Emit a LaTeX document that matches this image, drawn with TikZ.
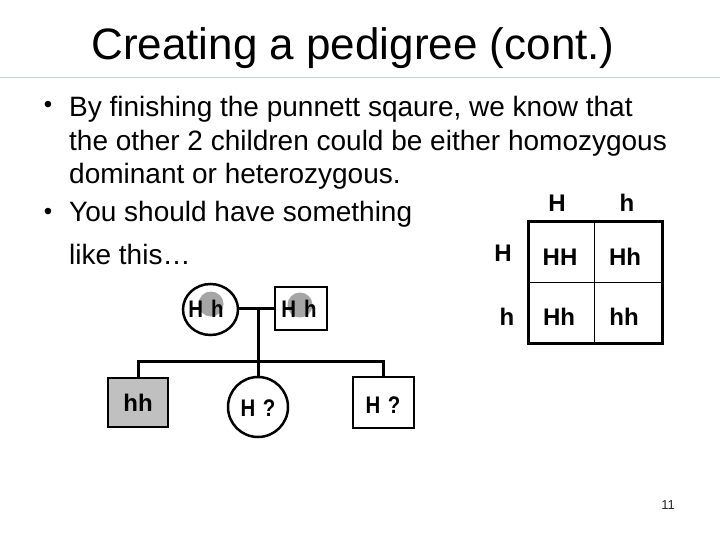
\documentclass[tikz,border=0pt]{standalone}
\usepackage{fontspec}
\setmainfont{Liberation Sans}
\usetikzlibrary{shapes.geometric}
\definecolor{ruleclr}{RGB}{200,210,220}
\definecolor{spotclr}{RGB}{165,165,165}
\definecolor{fillclr}{RGB}{192,192,192}
\newcommand{\pedtxt}[1]{\scalebox{0.85}[1]{#1}}
\begin{document}
\begin{tikzpicture}[x=1pt,y=-1pt,
  titletext/.style={font=\fontsize{44}{50}\selectfont, inner sep=0, anchor=base},
  bodytext/.style={font=\fontsize{28}{33}\selectfont, inner sep=0, anchor=base west},
  bulletmark/.style={font=\fontsize{24}{26}\selectfont, inner sep=0, anchor=base},
  gtext/.style={font=\fontsize{24}{26}\bfseries\selectfont, inner sep=0, text height=17pt, text depth=0pt, anchor=center},
  shapeline/.style={draw=black, line width=2.5pt},
  linkline/.style={draw=black, line width=3pt},
  spot/.style={fill=spotclr}
]
\useasboundingbox (0,0) rectangle (720,540);
\fill[white] (0,0) rectangle (720,540);

% title
\node[titletext] (title) at (353,60) {Creating a pedigree (cont.)};
\draw[ruleclr, line width=1.5pt] (0,77.5) -- (720,77.5);

% bullets
\node[bulletmark] (b1) at (48,113) {•};
\node[bodytext] (l1) at (69,117) {By finishing the punnett sqaure, we know that};
\node[bodytext] (l2) at (69,150.5) {the other 2 children could be either homozygous};
\node[bodytext] (l3) at (69,184) {dominant or heterozygous.};
\node[bulletmark] (b2) at (48,219) {•};
\node[bodytext] (l4) at (69,222) {You should have something};
\node[bodytext] (l5) at (69,264) {like this…};

% Punnett square
\draw[line width=3pt] (528,222) rectangle (662,343);
\draw[line width=1pt] (594,222) -- (594,343);
\draw[line width=1pt] (528,282) -- (662,282);
\node[gtext] (ch1) at (557,203) {H};
\node[gtext] (ch2) at (627,203) {h};
\node[gtext] (rh1) at (503,253) {H};
\node[gtext] (rh2) at (507,317) {h};
\node[gtext] (c11) at (560,257) {HH};
\node[gtext] (c12) at (625,257) {Hh};
\node[gtext] (c21) at (559,317) {Hh};
\node[gtext] (c22) at (624,317) {hh};

% parents
\node[ellipse, shapeline, minimum width=55pt, minimum height=51pt, inner sep=0] (mom) at (210.5,309.5) {};
\node[rectangle, shapeline, minimum width=52pt, minimum height=43pt, inner sep=0] (dad) at (301,308.5) {};
\fill[spot] (211,304) circle (12.5);
\fill[spot] (300,305) circle (12.5);
\node[gtext] (momtxt) at (206,308.5) {\pedtxt{H\hspace{3pt} h}};
\node[gtext] (dadtxt) at (299,309) {\pedtxt{H\hspace{3pt} h}};
\coordinate (drop) at (258,308.5);
\draw[linkline] (mom.east |- drop) -- (dad.west |- drop);

% children
\node[rectangle, shapeline, fill=fillclr, minimum width=60pt, minimum height=49pt, inner sep=0] (kid1) at (138,402.5) {};
\node[circle, shapeline, minimum size=60pt, inner sep=0] (kid2) at (258,407) {};
\node[rectangle, shapeline, minimum width=61pt, minimum height=51pt, inner sep=0] (kid3) at (383.5,402.5) {};
\node[gtext] (k1txt) at (138,403) {hh};
\node[gtext] (k2txt) at (258,408) {\pedtxt{H\hspace{2pt} ?}};
\node[gtext] (k3txt) at (383,405) {\pedtxt{H\hspace{2pt} ?}};
\coordinate (sib) at (258,361);
\draw[linkline] (drop) -- (kid2.north);
\draw[linkline] (kid1.north) |- (sib) -| (kid3.north);

% page number
\node[font=\fontsize{13}{15}\selectfont, text=black!85, inner sep=0] (pnum) at (668,505) {11};
\end{tikzpicture}
\end{document}
